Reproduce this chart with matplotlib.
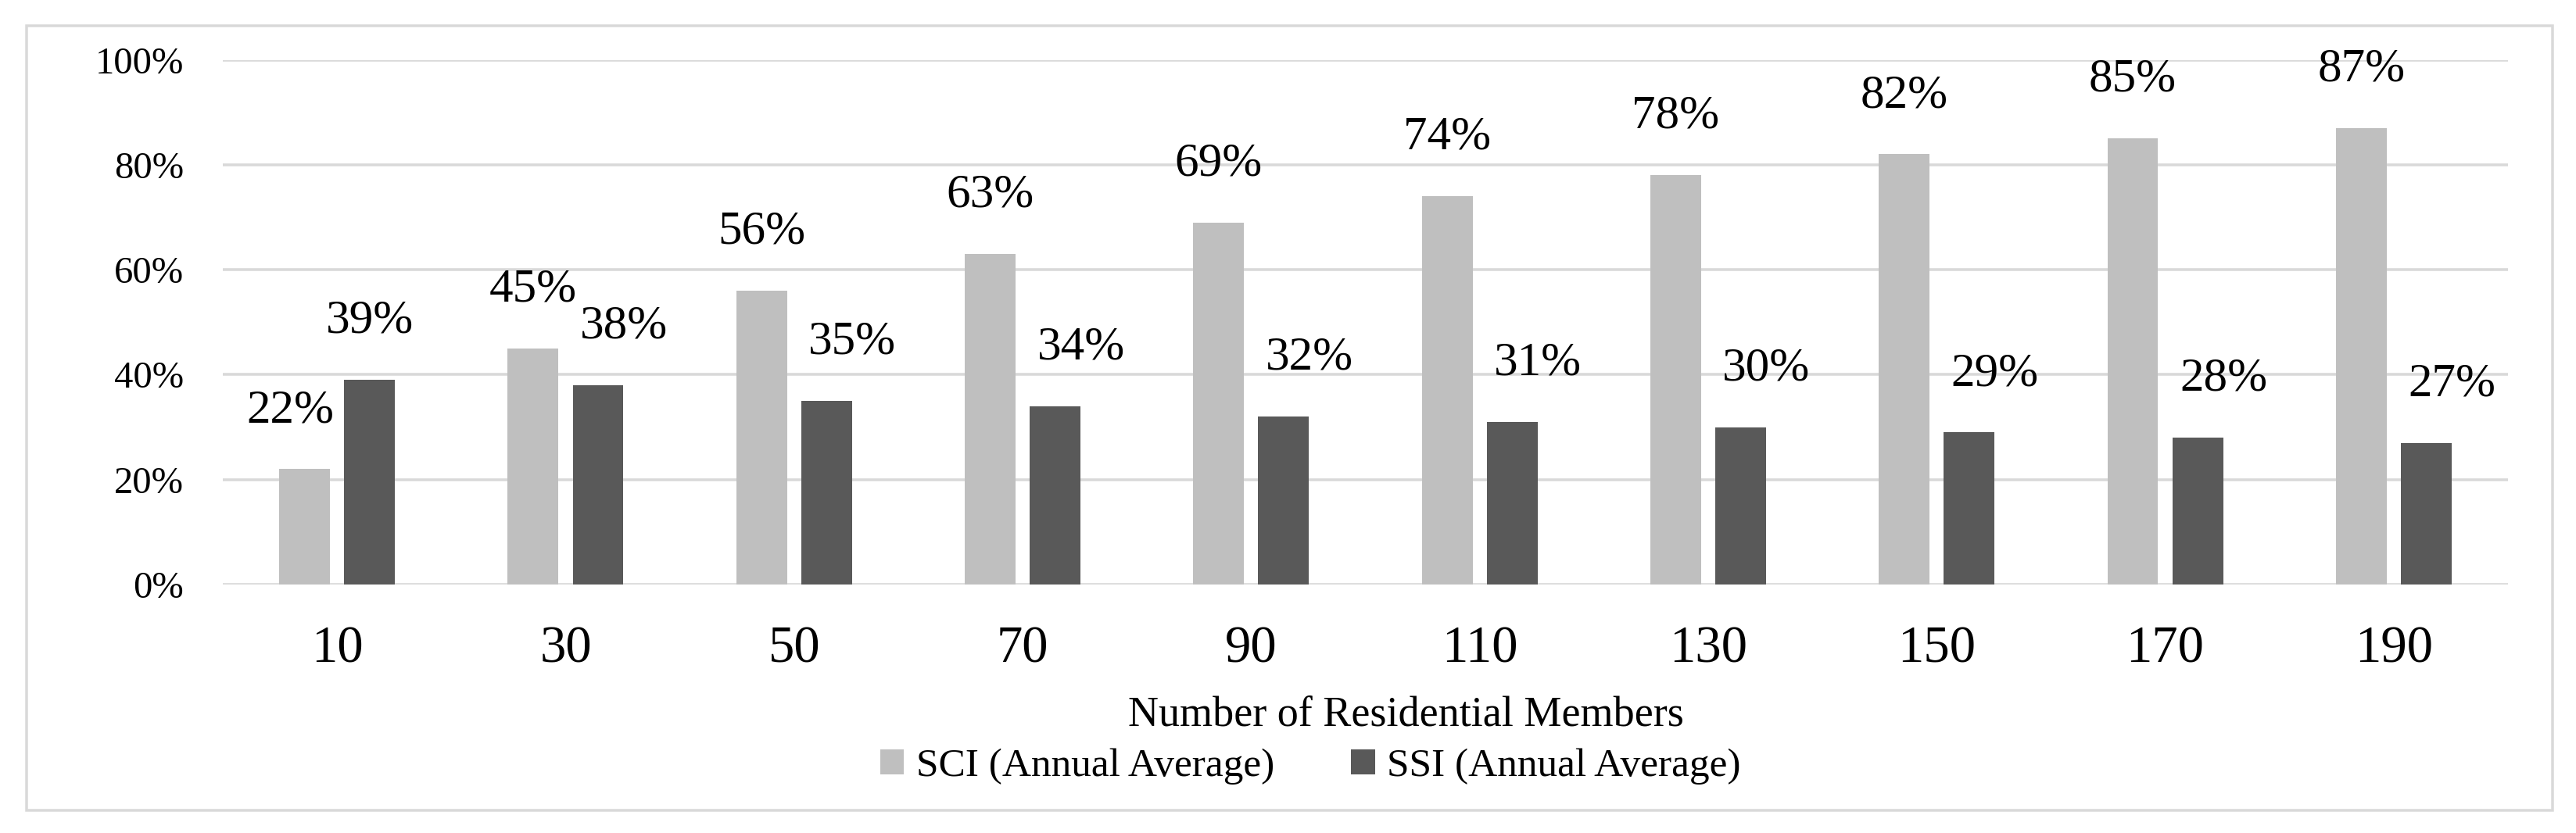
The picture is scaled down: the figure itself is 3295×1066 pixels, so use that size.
import matplotlib
matplotlib.use("Agg")
import matplotlib.pyplot as plt
from matplotlib.patches import Rectangle, Patch
import numpy as np

categories = ["10", "30", "50", "70", "90", "110", "130", "150", "170", "190"]
sci = [22, 45, 56, 63, 69, 74, 78, 82, 85, 87]
ssi = [39, 38, 35, 34, 32, 31, 30, 29, 28, 27]
yticks = [0, 20, 40, 60, 80, 100]
xlabel = "Number of Residential Members"
series_names = ["SCI (Annual Average)", "SSI (Annual Average)"]

# label horizontal offsets in pixels (style)
sci_dx = [-18, 0, 0, 0, 0, 0, 0, 0, 0, 0]
ssi_dx = [0, 33, 33, 33, 33, 33, 33, 33, 33, 33]

plt.rcParams['font.family'] = ['Liberation Serif', 'DejaVu Serif']

W, H = 3295, 1066
DPI = 200
fig = plt.figure(figsize=(W / DPI, H / DPI), dpi=DPI)
px = 72.0 / DPI  # points per pixel

# outer frame
fig.patches.append(Rectangle((34 / W, 1 - 1037 / H), (3265 - 34) / W, (1037 - 33) / H,
                             transform=fig.transFigure, fill=False,
                             edgecolor='#d9d9d9', linewidth=3.5 * px))

ax = fig.add_axes([285 / W, 1 - 748 / H, 2923 / W, 671.5 / H])
x = np.arange(len(categories))
bw = 0.222
off = 0.142
c_sci = '#bfbfbf'
c_ssi = '#595959'
ax.bar(x - off, [v / 100 for v in sci], bw, color=c_sci, zorder=3)
ax.bar(x + off, [v / 100 for v in ssi], bw, color=c_ssi, zorder=3)

ax.set_xlim(-0.5, len(categories) - 0.5)
ax.set_ylim(0, 1)
ax.set_yticks([t / 100 for t in yticks])
ax.set_yticklabels([f"{t}%" for t in yticks], fontsize=17.5)
ax.set_xticks(x)
ax.set_xticklabels(categories, fontsize=24)
ax.tick_params(axis='y', length=0, pad=50 * px)
ax.tick_params(axis='x', length=0, pad=52 * px)
ax.grid(axis='y', color='#d9d9d9', linewidth=3.6 * px, zorder=0)
for s in ax.spines.values():
    s.set_visible(False)

for i in range(len(categories)):
    ax.annotate(f"{sci[i]}%", (x[i] - off, sci[i] / 100), xytext=(sci_dx[i] * px, 75 * px),
                textcoords='offset points', ha='center', va='center', fontsize=22)
    ax.annotate(f"{ssi[i]}%", (x[i] + off, ssi[i] / 100), xytext=(ssi_dx[i] * px, 75 * px),
                textcoords='offset points', ha='center', va='center', fontsize=22)

fig.text(1798 / W, 1 - 915 / H, xlabel, ha='center', va='center', fontsize=19.5)

handles = [Patch(facecolor=c_sci, edgecolor='none'), Patch(facecolor=c_ssi, edgecolor='none')]
fig.legend(handles, series_names, loc='center', bbox_to_anchor=(1676 / W, 1 - 981 / H),
           ncol=2, frameon=False, fontsize=18.5, handlelength=0.6, handleheight=0.6,
           handletextpad=0.3, columnspacing=1.9, borderaxespad=0, borderpad=0)

fig.savefig("out.png", dpi=DPI, facecolor='white')
